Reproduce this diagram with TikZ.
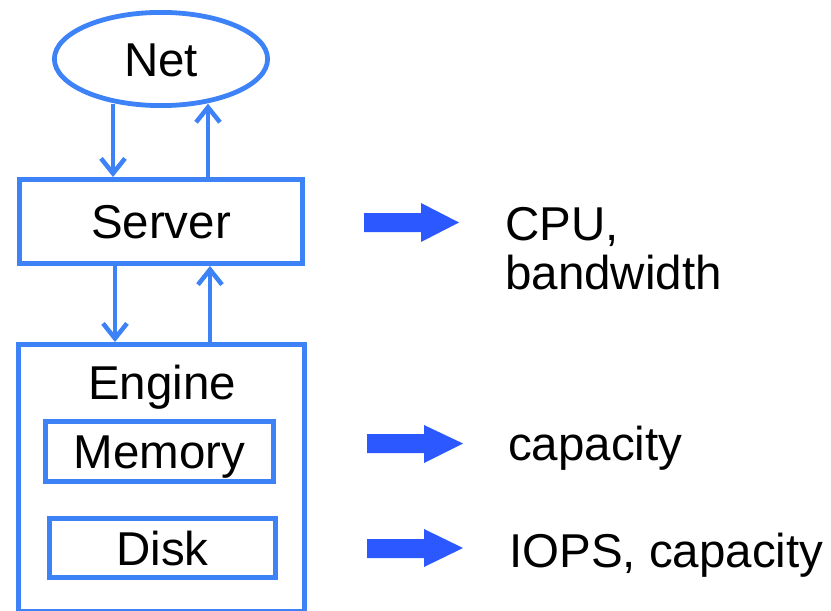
\documentclass[tikz,border=0pt]{standalone}
\usepackage{fontspec}
\setmainfont{Liberation Sans}
\usetikzlibrary{arrows.meta,shapes.geometric,calc}
\definecolor{boxblue}{RGB}{62,130,247}
\definecolor{arrowblue}{RGB}{43,89,255}
\begin{document}
\begin{tikzpicture}[x=1pt,y=-1pt,
  box/.style={draw=boxblue,line width=4.8pt,rectangle,inner sep=0pt,
    font=\fontsize{47.5}{49}\selectfont,text height=34pt,text depth=0pt},
  lbl/.style={inner sep=0pt,anchor=base west,font=\fontsize{47.5}{49}\selectfont},
  link/.style={draw=boxblue,line width=4.5pt,-{Straight Barb[length=15pt,width=24pt]}},
  bigarrow/.style={fill=arrowblue}]
\useasboundingbox (0,0) rectangle (831,611);
% boxes
\node[box,ellipse,minimum width=213.2pt,minimum height=93.2pt] (net) at (161,59) {Net};
\node[box,minimum width=283.2pt,minimum height=84.2pt] (server) at (161,221.5) {Server};
\node[box,minimum width=286.2pt,minimum height=267.2pt] (engine) at (161.5,478) {};
\node[lbl,anchor=base] (enginelbl) at (162,399) {Engine};
\node[box,minimum width=228.2pt,minimum height=60.2pt] (memory) at (159.5,451.5) {Memory};
\node[box,minimum width=226.2pt,minimum height=59.2pt] (disk) at (162.5,548) {Disk};
% connectors
\draw[link] ([xshift=-48pt]net.center |- net.225) -- ([xshift=-48pt]net.center |- server.north);
\draw[link] ([xshift=47pt]net.center |- server.north) -- ([xshift=47pt]net.center |- net.-45);
\draw[link] ([xshift=-46pt]server.south) -- ([xshift=-46pt]server.south |- engine.north);
\draw[link] ([xshift=49pt]server.south |- engine.north) -- ([xshift=49pt]server.south);
% block arrows
\fill[bigarrow] (364,213) -- (421,213) -- (421,203) -- (459,222.5) -- (421,242) -- (421,232) -- (364,232) -- cycle;
\fill[bigarrow] (367,434) -- (424,434) -- (424,425) -- (463,443.5) -- (424,463) -- (424,453) -- (367,453) -- cycle;
\fill[bigarrow] (367,539) -- (424,539) -- (424,529) -- (463,548) -- (424,567) -- (424,558) -- (367,558) -- cycle;
% texts
\node[lbl] (cpu) at (505,240) {CPU,};
\node[lbl] (bw) at (505,289) {bandwidth};
\node[lbl] (cap) at (508,460) {capacity};
\node[lbl] (iops) at (509,567) {IOPS, capacity};
\end{tikzpicture}
\end{document}
